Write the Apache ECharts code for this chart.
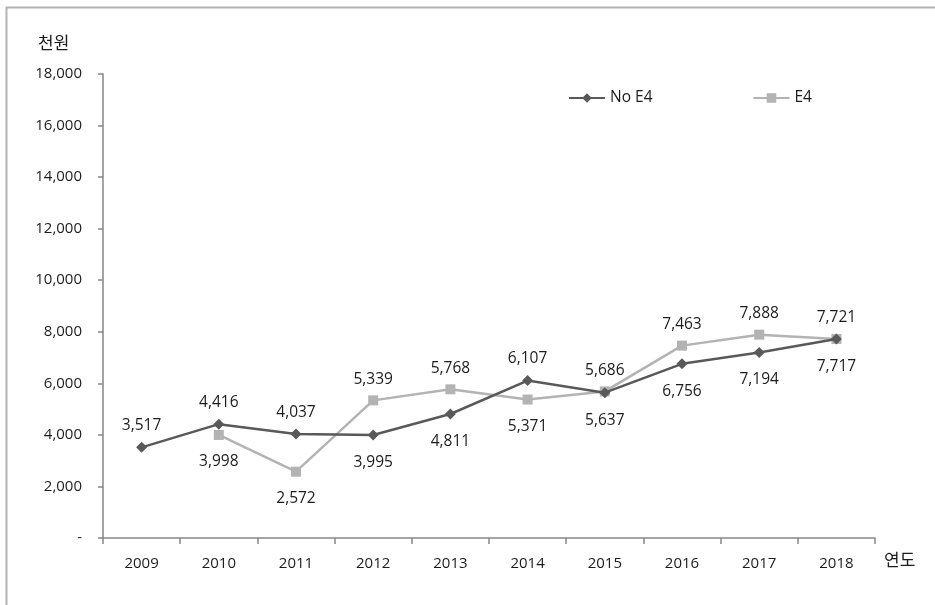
<!DOCTYPE html>
<html>
<head>
<meta charset="utf-8">
<script src="https://cdn.jsdelivr.net/npm/echarts@6/dist/echarts.min.js"></script>
<style>
  html, body { margin: 0; padding: 0; background: #fff; }
  #chart { width: 935px; height: 605px; }
</style>
</head>
<body>
<div id="chart"></div>
<script>
// 연도별 금액 (천원)
const years = ['2009', '2010', '2011', '2012', '2013', '2014', '2015', '2016', '2017', '2018'];
const noE4 = [3517, 4416, 4037, 3995, 4811, 6107, 5637, 6756, 7194, 7717];
const e4 = [null, 3998, 2572, 5339, 5768, 5371, 5686, 7463, 7888, 7721];
const yTicks = [0, 2000, 4000, 6000, 8000, 10000, 12000, 14000, 16000, 18000];

const NUM_FONT = '"Open Sans", "Noto Sans", sans-serif';
const KR_FONT = '"Noto Sans CJK KR", "Noto Sans", sans-serif';
const TEXT = '#1c1c1c';

// label above when a series is the higher of the pair at that year, below otherwise
function withLabels(own, other) {
  return own.map((v, i) => {
    if (v == null) return null;
    const o = other[i];
    const above = (o == null || v >= o);
    return { value: v, label: { position: above ? 'top' : 'bottom', distance: above ? 8 : 14 } };
  });
}

const fmt = v => v === 0 ? '-' : v.toLocaleString('en-US');

const labelStyle = { show: true, fontSize: 15.5, color: TEXT, fontFamily: NUM_FONT, formatter: p => fmt(p.value) };

const chart = echarts.init(document.getElementById('chart'), null, { renderer: 'canvas' });
chart.setOption({
  animation: false,
  backgroundColor: '#fff',
  textStyle: { fontFamily: NUM_FONT, color: TEXT },
  grid: { left: 103, right: 60, top: 74, bottom: 67 },
  legend: {
    left: 563, top: 85,
    itemWidth: 36, itemHeight: 12, itemGap: 100,
    textStyle: { fontFamily: NUM_FONT, fontSize: 15.5, color: TEXT },
    data: ['No E4', 'E4']
  },
  graphic: [
    { type: 'line', shape: { x1: 6.5, y1: 7, x2: 6.5, y2: 605 }, style: { stroke: '#b3b3b3', lineWidth: 2 } },
    { type: 'line', shape: { x1: 6, y1: 7.5, x2: 935, y2: 7.5 }, style: { stroke: '#b3b3b3', lineWidth: 2 } },
    { type: 'text', left: 38, top: 34, style: { text: '천원', font: '17px ' + KR_FONT, fill: TEXT } },
    { type: 'text', left: 884, top: 551, style: { text: '연도', font: '17px ' + KR_FONT, fill: TEXT } }
  ],
  xAxis: {
    type: 'category',
    data: years,
    boundaryGap: true,
    axisLine: { lineStyle: { color: '#868686', width: 1.5 } },
    axisTick: { show: true, length: 6, interval: 0, lineStyle: { color: '#868686', width: 1.5 } },
    axisLabel: { margin: 18, fontSize: 15, color: TEXT, fontFamily: NUM_FONT }
  },
  yAxis: {
    type: 'value',
    min: yTicks[0],
    max: yTicks[yTicks.length - 1],
    interval: yTicks[1] - yTicks[0],
    splitLine: { show: false },
    axisLine: { show: true, lineStyle: { color: '#868686', width: 1.5 } },
    axisTick: { show: true, length: 5, lineStyle: { color: '#868686', width: 1.5 } },
    axisLabel: { margin: 21, fontSize: 15, color: TEXT, fontFamily: NUM_FONT, formatter: fmt }
  },
  series: [
    {
      name: 'No E4',
      type: 'line',
      data: withLabels(noE4, e4),
      symbol: 'diamond',
      symbolSize: 11,
      lineStyle: { color: '#595959', width: 2.5 },
      itemStyle: { color: '#595959' },
      label: labelStyle,
      z: 3
    },
    {
      name: 'E4',
      type: 'line',
      data: withLabels(e4, noE4),
      symbol: 'rect',
      symbolSize: 10,
      connectNulls: false,
      lineStyle: { color: '#b3b3b3', width: 2.5 },
      itemStyle: { color: '#b3b3b3' },
      label: labelStyle,
      z: 2
    }
  ]
});
</script>
</body>
</html>
